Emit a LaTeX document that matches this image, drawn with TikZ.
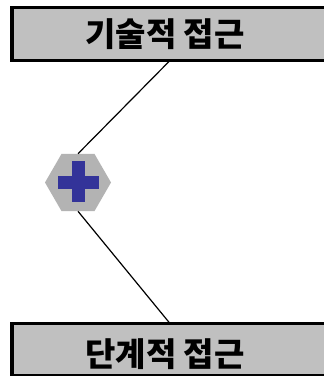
\documentclass[tikz,border=0pt]{standalone}
\usepackage{fontspec}
\newfontfamily\kr{Noto Sans CJK KR}
\usetikzlibrary{shapes.geometric}
\definecolor{boxgray}{HTML}{C0C0C0}
\definecolor{hexgray}{HTML}{B3B3B3}
\definecolor{crossblue}{HTML}{333399}
\begin{document}
\begin{tikzpicture}[x=1pt,y=-1pt,
  panel/.style={draw=black,line width=3.5pt,fill=boxgray},
  paneltext/.style={font=\kr\bfseries\fontsize{33}{36}\selectfont,inner sep=0pt},
  hexnode/.style={regular polygon,regular polygon sides=6,fill=hexgray,minimum size=66pt,inner sep=0pt},
  link/.style={draw=black,line width=1.2pt}]
\useasboundingbox (0,0) rectangle (324,376);
\fill[white] (0,0) rectangle (324,376);
% top panel
\draw[panel] (12,7.5) rectangle (360,60.5);
\node[paneltext] (toptext) at (165,34) {기술적 접근};
\coordinate (topanchor) at (170,60.5);
% bottom panel
\draw[panel] (12,323.5) rectangle (360,376);
\node[paneltext] (bottext) at (165,354) {단계적 접근};
\coordinate (botanchor) at (170,323.5);
% hexagon with cross
\node[hexnode] (hex) at (78,182.5) {};
\fill[crossblue] (58,175.5) rectangle (99,188.5);
\fill[crossblue] (72,161) rectangle (85,202);
% connectors
\draw[link] (topanchor) -- (hex.north);
\draw[link] (hex.south) -- (botanchor);
\end{tikzpicture}
\end{document}
